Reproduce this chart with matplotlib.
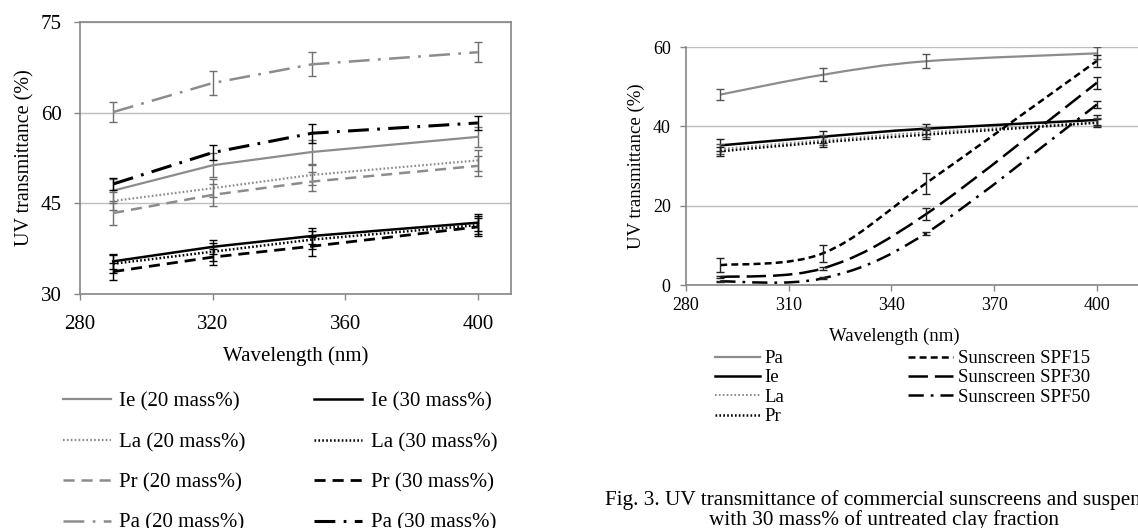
import numpy as np
import matplotlib
matplotlib.use("Agg")
import matplotlib.pyplot as plt
from matplotlib.path import Path
from matplotlib.patches import PathPatch
from matplotlib.lines import Line2D

plt.rcParams['font.family'] = ['Liberation Serif', 'DejaVu Serif']
plt.rcParams['lines.scale_dashes'] = False

wavelength = [290, 320, 350, 400]

# left panel: clay suspensions at 20 and 30 mass%
ie_20 = [47.1, 51.3, 53.5, 56.0]
la_20 = [45.4, 47.5, 49.7, 52.1]
pr_20 = [43.4, 46.4, 48.6, 51.2]
pa_20 = [60.1, 64.9, 68.0, 70.0]
ie_30 = [35.4, 37.8, 39.6, 41.8]
la_30 = [35.0, 37.0, 39.0, 41.4]
pr_30 = [33.7, 36.1, 37.9, 41.1]
pa_30 = [48.2, 53.4, 56.6, 58.3]

ie_20_err = [2.0, 2.0, 2.0, 1.6]
la_20_err = [1.5, 1.5, 1.6, 1.8]
pr_20_err = [2.0, 1.8, 1.6, 1.6]
pa_20_err = [1.6, 2.0, 2.0, 1.7]
ie_30_err = [1.3, 1.2, 1.3, 1.4]
la_30_err = [1.5, 1.5, 1.5, 1.5]
pr_30_err = [1.4, 1.3, 1.6, 1.5]
pa_30_err = [1.0, 1.2, 1.6, 1.2]

# right panel: commercial sunscreens and 30 mass% suspensions
pa = [48.0, 53.0, 56.4, 58.4]
ie = [35.2, 37.4, 39.4, 41.6]
la = [34.3, 36.5, 38.5, 41.0]
pr = [33.7, 36.0, 37.9, 40.9]
spf15 = [5.0, 8.0, 25.6, 56.5]
spf30 = [2.0, 4.2, 17.8, 51.0]
spf50 = [0.9, 1.7, 13.0, 45.5]

pa_err = [1.4, 1.6, 1.8, 1.5]
ie_err = [1.5, 1.5, 1.3, 1.3]
la_err = [1.2, 1.2, 1.2, 1.0]
pr_err = [1.2, 1.2, 1.2, 1.0]
spf15_err = [1.7, 2.2, 2.6, 1.6]
spf30_err = [0.3, 0.3, 1.5, 1.5]
spf50_err = [0.2, 0.2, 0.3, 0.8]

GRAY = '#8c8c8c'
BLACK = '#000000'
SPINE = '#868686'
GRID = '#bdbdbd'

SOLID = '-'
DOTTED = (0, (1.2, 1.6))
DASHED = (0, (8, 5))
DASHDOT = (0, (15, 6, 2, 6))
SHORTDASH = (0, (5, 3))
LONGDASH = (0, (14, 5))
LONGDASHDOT = (0, (11, 5, 2, 5))


def smooth_path(x, y):
    """Excel style smoothed line: cubic bezier through every point."""
    pts = np.column_stack([x, y]).astype(float)
    n = len(pts)
    verts = [pts[0]]
    codes = [Path.MOVETO]
    for i in range(n - 1):
        p0 = pts[max(i - 1, 0)]
        p1 = pts[i]
        p2 = pts[i + 1]
        p3 = pts[min(i + 2, n - 1)]
        verts += [p1 + (p2 - p0) / 6, p2 - (p3 - p1) / 6, p2]
        codes += [Path.CURVE4] * 3
    return Path(verts, codes)


def style_axes(ax, tick_size, pad_x, pad_y):
    for side in ['left', 'bottom', 'top', 'right']:
        ax.spines[side].set_color(SPINE)
        ax.spines[side].set_linewidth(1.2)
    ax.tick_params(axis='both', direction='out', length=4, width=1, color=SPINE,
                   labelsize=tick_size)
    ax.tick_params(axis='x', pad=pad_x)
    ax.tick_params(axis='y', pad=pad_y)
    ax.yaxis.grid(True, color=GRID, linewidth=1)
    ax.set_axisbelow(True)


fig = plt.figure(figsize=(11.38, 5.28), dpi=100)

# ---------- left panel ----------
ax1 = fig.add_axes([80 / 1138, 1 - 294 / 528, 431 / 1138, 272 / 528])
left_series = [
    (ie_20, ie_20_err, GRAY, SOLID, 1.6, 'Ie (20 mass%)'),
    (la_20, la_20_err, GRAY, DOTTED, 1.6, 'La (20 mass%)'),
    (pr_20, pr_20_err, GRAY, DASHED, 1.8, 'Pr (20 mass%)'),
    (pa_20, pa_20_err, GRAY, DASHDOT, 1.8, 'Pa (20 mass%)'),
    (ie_30, ie_30_err, BLACK, SOLID, 1.8, 'Ie (30 mass%)'),
    (la_30, la_30_err, BLACK, DOTTED, 1.8, 'La (30 mass%)'),
    (pr_30, pr_30_err, BLACK, DASHED, 2.0, 'Pr (30 mass%)'),
    (pa_30, pa_30_err, BLACK, DASHDOT, 2.2, 'Pa (30 mass%)'),
]
left_handles = []
for vals, err, color, ls, lw, label in left_series:
    ax1.errorbar(wavelength, vals, yerr=err, fmt='none', ecolor=color if color == BLACK else '#707070',
                 elinewidth=1, capsize=3, capthick=1)
    ax1.plot(wavelength, vals, color=color, linestyle=ls, linewidth=lw)
    left_handles.append(Line2D([], [], color=color, linestyle=ls, linewidth=lw, label=label))

ax1.set_xlim(280, 410)
ax1.set_ylim(30, 75)
ax1.set_xticks([280, 320, 360, 400])
ax1.set_yticks([30, 45, 60, 75])
style_axes(ax1, 15, 11, 9)
ax1.set_xlabel('Wavelength (nm)', fontsize=15, labelpad=9)
ax1.set_ylabel('UV transmittance (%)', fontsize=14.5, labelpad=5)

fig.legend(handles=left_handles, loc='upper left', bbox_to_anchor=(63 / 1138, 1 - 392 / 528),
           ncol=2, frameon=False, fontsize=15, handlelength=2.3, handletextpad=0.4,
           columnspacing=3.3, labelspacing=1.0, borderpad=0, borderaxespad=0)

# ---------- right panel ----------
ax2 = fig.add_axes([686 / 1138, 1 - 285 / 528, 452 / 1138, 238 / 528])
right_series = [
    (pa, pa_err, GRAY, SOLID, 1.6, 'Pa'),
    (ie, ie_err, BLACK, SOLID, 1.8, 'Ie'),
    (la, la_err, GRAY, DOTTED, 1.4, 'La'),
    (pr, pr_err, BLACK, DOTTED, 1.8, 'Pr'),
    (spf15, spf15_err, BLACK, SHORTDASH, 1.8, 'Sunscreen SPF15'),
    (spf30, spf30_err, BLACK, LONGDASH, 1.8, 'Sunscreen SPF30'),
    (spf50, spf50_err, BLACK, LONGDASHDOT, 1.8, 'Sunscreen SPF50'),
]
right_handles = []
for vals, err, color, ls, lw, label in right_series:
    ax2.errorbar(wavelength, vals, yerr=err, fmt='none', ecolor='#555555' if color == GRAY else '#222222',
                 elinewidth=1, capsize=3, capthick=1)
    patch = PathPatch(smooth_path(wavelength, vals), facecolor='none', edgecolor=color,
                      linestyle=ls, linewidth=lw, capstyle='butt')
    ax2.add_patch(patch)
    right_handles.append(Line2D([], [], color=color, linestyle=ls, linewidth=lw, label=label))

ax2.set_xlim(280, 412)
ax2.set_ylim(0, 60)
ax2.set_xticks([280, 310, 340, 370, 400])
ax2.set_yticks([0, 20, 40, 60])
style_axes(ax2, 13, 5, 7)
ax2.spines['top'].set_visible(False)
ax2.spines['right'].set_visible(False)
ax2.set_ylabel('UV transmittance (%)', fontsize=13.5, labelpad=6)
fig.text(894 / 1138, 1 - 336 / 528, 'Wavelength (nm)', fontsize=13.5, ha='center', va='center')

fig.legend(handles=right_handles, loc='upper left', bbox_to_anchor=(715 / 1138, 1 - 350 / 528),
           ncol=2, frameon=False, fontsize=13.5, handlelength=2.4, handletextpad=0.25,
           columnspacing=6.6, labelspacing=0.12, borderpad=0, borderaxespad=0)

fig.text(605 / 1138, 1 - 500 / 528,
         'Fig. 3. UV transmittance of commercial sunscreens and suspensions',
         fontsize=15.3, ha='left', va='center')
fig.text(884 / 1138, 1 - 520 / 528, 'with 30 mass% of untreated clay fraction',
         fontsize=15.3, ha='center', va='center')

fig.savefig('out.png', dpi=100)
